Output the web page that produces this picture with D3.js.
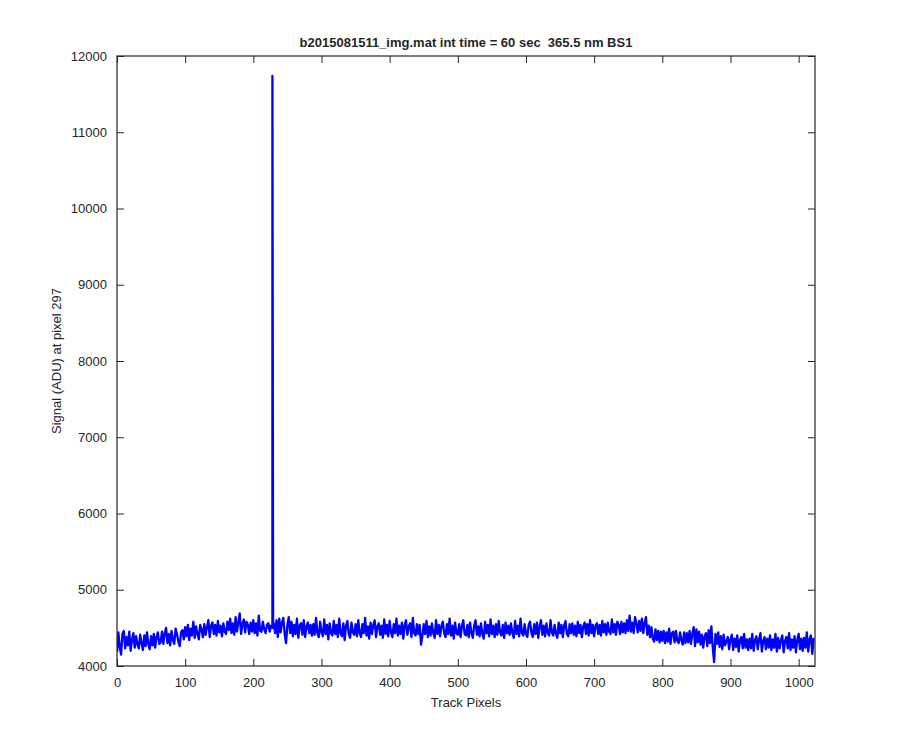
<!DOCTYPE html>
<html>
<head>
<meta charset="utf-8">
<script src="https://cdn.jsdelivr.net/npm/d3@7"></script>
<style>
  body { margin: 0; background: #fff; }
  text { font-family: Arial, "Liberation Sans", Helvetica, sans-serif; fill: #262626; }
</style>
</head>
<body>
<div id="chart"></div>
<script>
// signal at pixel 297, sampled every 2 track pixels (x = 0, 2, 4, ... 1022)
var xStep = 2;
var signal = [
  4180,4440,4250,4150,4420,4460,4230,4380,4270,4450,4200,4350,4430,4240,4390,4280,
  4230,4410,4300,4210,4400,4260,4440,4290,4220,4390,4270,4420,4240,4380,4440,4290,
  4310,4450,4290,4430,4500,4300,4420,4270,4460,4340,4290,4490,4420,4320,4260,4440,
  4470,4350,4510,4390,4540,4340,4490,4400,4580,4370,4520,4420,4350,4540,4480,4380,
  4550,4410,4510,4600,4380,4530,4570,4420,4540,4400,4590,4440,4530,4390,4560,4450,
  4420,4580,4470,4620,4430,4560,4410,4640,4450,4570,4690,4420,4550,4610,4440,4580,
  4540,4420,4570,4450,4600,4430,4560,4400,4660,4460,4450,4580,4480,4430,4540,4560,
  4450,4530,4500,4560,4430,4600,4380,4620,4440,4570,4630,4420,4300,4540,4640,4430,
  4580,4390,4540,4420,4620,4370,4530,4560,4410,4600,4380,4520,4570,4430,4540,4400,
  4550,4410,4630,4430,4380,4580,4440,4390,4610,4420,4540,4350,4560,4430,4400,4590,
  4420,4540,4380,4620,4430,4390,4560,4340,4530,4590,4420,4370,4570,4440,4410,4550,
  4390,4600,4430,4380,4550,4430,4630,4400,4520,4360,4570,4420,4540,4600,4380,4520,
  4560,4410,4530,4370,4610,4420,4540,4390,4590,4440,4380,4550,4430,4620,4400,4530,
  4420,4570,4360,4530,4600,4410,4520,4560,4380,4630,4430,4400,4550,4420,4540,4280,
  4390,4550,4420,4590,4380,4520,4400,4560,4430,4370,4600,4420,4540,4390,4530,4580,
  4430,4380,4550,4420,4620,4400,4530,4360,4570,4430,4410,4550,4380,4520,4600,4420,
  4400,4540,4380,4570,4430,4370,4530,4600,4410,4520,4390,4560,4420,4360,4580,4430,
  4540,4390,4610,4420,4530,4380,4550,4410,4590,4440,4400,4540,4370,4570,4430,4530,
  4410,4560,4430,4370,4590,4420,4530,4390,4620,4430,4400,4550,4420,4380,4540,4580,
  4430,4380,4550,4420,4570,4370,4520,4600,4410,4530,4390,4560,4430,4400,4600,4440,
  4400,4540,4420,4370,4570,4430,4540,4380,4530,4590,4420,4390,4550,4430,4560,4410,
  4530,4390,4580,4430,4540,4380,4520,4570,4420,4550,4400,4600,4430,4540,4390,4530,
  4560,4420,4540,4400,4590,4440,4550,4410,4570,4450,4420,4610,4440,4550,4410,4580,
  4540,4420,4580,4440,4560,4430,4600,4460,4660,4450,4570,4430,4640,4560,4440,4590,
  4460,4620,4430,4560,4640,4410,4530,4380,4510,4360,4320,4480,4340,4460,4310,4450,
  4330,4460,4300,4440,4320,4490,4290,4430,4450,4310,4460,4330,4300,4440,4340,4280,
  4440,4300,4430,4310,4460,4290,4420,4510,4260,4480,4310,4450,4280,4410,4240,4390,
  4430,4260,4470,4300,4520,4240,4050,4420,4290,4440,4250,4390,4220,4410,4270,4320,
  4380,4220,4350,4410,4210,4360,4250,4400,4190,4340,4380,4230,4420,4240,4350,4210,
  4360,4230,4420,4200,4340,4390,4220,4350,4430,4190,4330,4380,4220,4360,4240,4400,
  4210,4350,4240,4420,4190,4370,4230,4340,4400,4180,4330,4380,4230,4430,4210,4350,
  4240,4390,4180,4340,4420,4220,4360,4200,4370,4240,4440,4190,4350,4400,4160,4370
];
// single-pixel spike near track pixel 228
var spikeX = [227, 228, 229];
var spikeY = [4520, 11740, 4540];

var xTicks = [0, 100, 200, 300, 400, 500, 600, 700, 800, 900, 1000];
var yTicks = [4000, 5000, 6000, 7000, 8000, 9000, 10000, 11000, 12000];
var xDomain = [0, 1024];
var yDomain = [4000, 12000];
var title = "b2015081511_img.mat int time = 60 sec  365.5 nm BS1";
var xLabel = "Track Pixels";
var yLabel = "Signal (ADU) at pixel 297";

var points = signal.map(function(v, i) { return [i * xStep, v]; })
  .concat(spikeX.map(function(v, i) { return [v, spikeY[i]]; }))
  .sort(function(a, b) { return a[0] - b[0]; });

var W = 900, H = 750;
var margin = {top: 56, right: 85, bottom: 84, left: 117},
    width = W - margin.left - margin.right,
    height = H - margin.top - margin.bottom;

var svg = d3.select("#chart")
  .append("svg")
    .attr("width", W)
    .attr("height", H)
  .append("g")
    .attr("transform", "translate(" + margin.left + "," + margin.top + ")");

var x = d3.scaleLinear().domain(xDomain).range([0, width]);
var y = d3.scaleLinear().domain(yDomain).range([height, 0]);

var tickLen = 7;
var fmt = d3.format("d");

// bottom and left axes, ticks pointing inward
var gx = svg.append("g")
  .attr("transform", "translate(0," + height + ")")
  .call(d3.axisBottom(x).tickValues(xTicks).tickFormat(fmt).tickSizeInner(-tickLen).tickSizeOuter(0).tickPadding(12));
var gy = svg.append("g")
  .call(d3.axisLeft(y).tickValues(yTicks).tickFormat(fmt).tickSizeInner(-tickLen).tickSizeOuter(0).tickPadding(10));
// top and right: ticks only
var gt = svg.append("g")
  .call(d3.axisTop(x).tickValues(xTicks).tickSizeInner(-tickLen).tickSizeOuter(0).tickFormat(""));
var gr = svg.append("g")
  .attr("transform", "translate(" + width + ",0)")
  .call(d3.axisRight(y).tickValues(yTicks).tickSizeInner(-tickLen).tickSizeOuter(0).tickFormat(""));

[gx, gy, gt, gr].forEach(function(g) {
  g.select(".domain").remove();
  g.selectAll(".tick line").attr("stroke", "#262626").attr("stroke-width", 1);
  g.selectAll(".tick text").style("font-size", "13px").style("font-family", "Arial, 'Liberation Sans', sans-serif").attr("fill", "#262626");
});

var line = d3.line()
  .x(function(d) { return x(d[0]); })
  .y(function(d) { return y(d[1]); });

svg.append("defs").append("clipPath").attr("id", "clip")
  .append("rect").attr("width", width).attr("height", height);

svg.append("path")
  .datum(points)
  .attr("clip-path", "url(#clip)")
  .attr("fill", "none")
  .attr("stroke", "#0000ff")
  .attr("stroke-width", 2.3)
  .attr("stroke-linejoin", "round")
  .attr("d", line);

// axes box
svg.append("rect")
  .attr("width", width)
  .attr("height", height)
  .attr("fill", "none")
  .attr("stroke", "#262626")
  .attr("stroke-width", 1.2);

svg.append("text")
  .attr("x", width / 2)
  .attr("y", -9)
  .attr("text-anchor", "middle")
  .attr("xml:space", "preserve")
  .style("white-space", "pre")
  .style("font-size", "13px")
  .style("font-weight", "bold")
  .attr("fill", "#000")
  .text(title);

svg.append("text")
  .attr("x", width / 2)
  .attr("y", height + 41)
  .attr("text-anchor", "middle")
  .style("font-size", "13px")
  .text(xLabel);

svg.append("text")
  .attr("transform", "rotate(-90)")
  .attr("x", -height / 2)
  .attr("y", -56)
  .attr("text-anchor", "middle")
  .style("font-size", "13px")
  .text(yLabel);
</script>
</body>
</html>
